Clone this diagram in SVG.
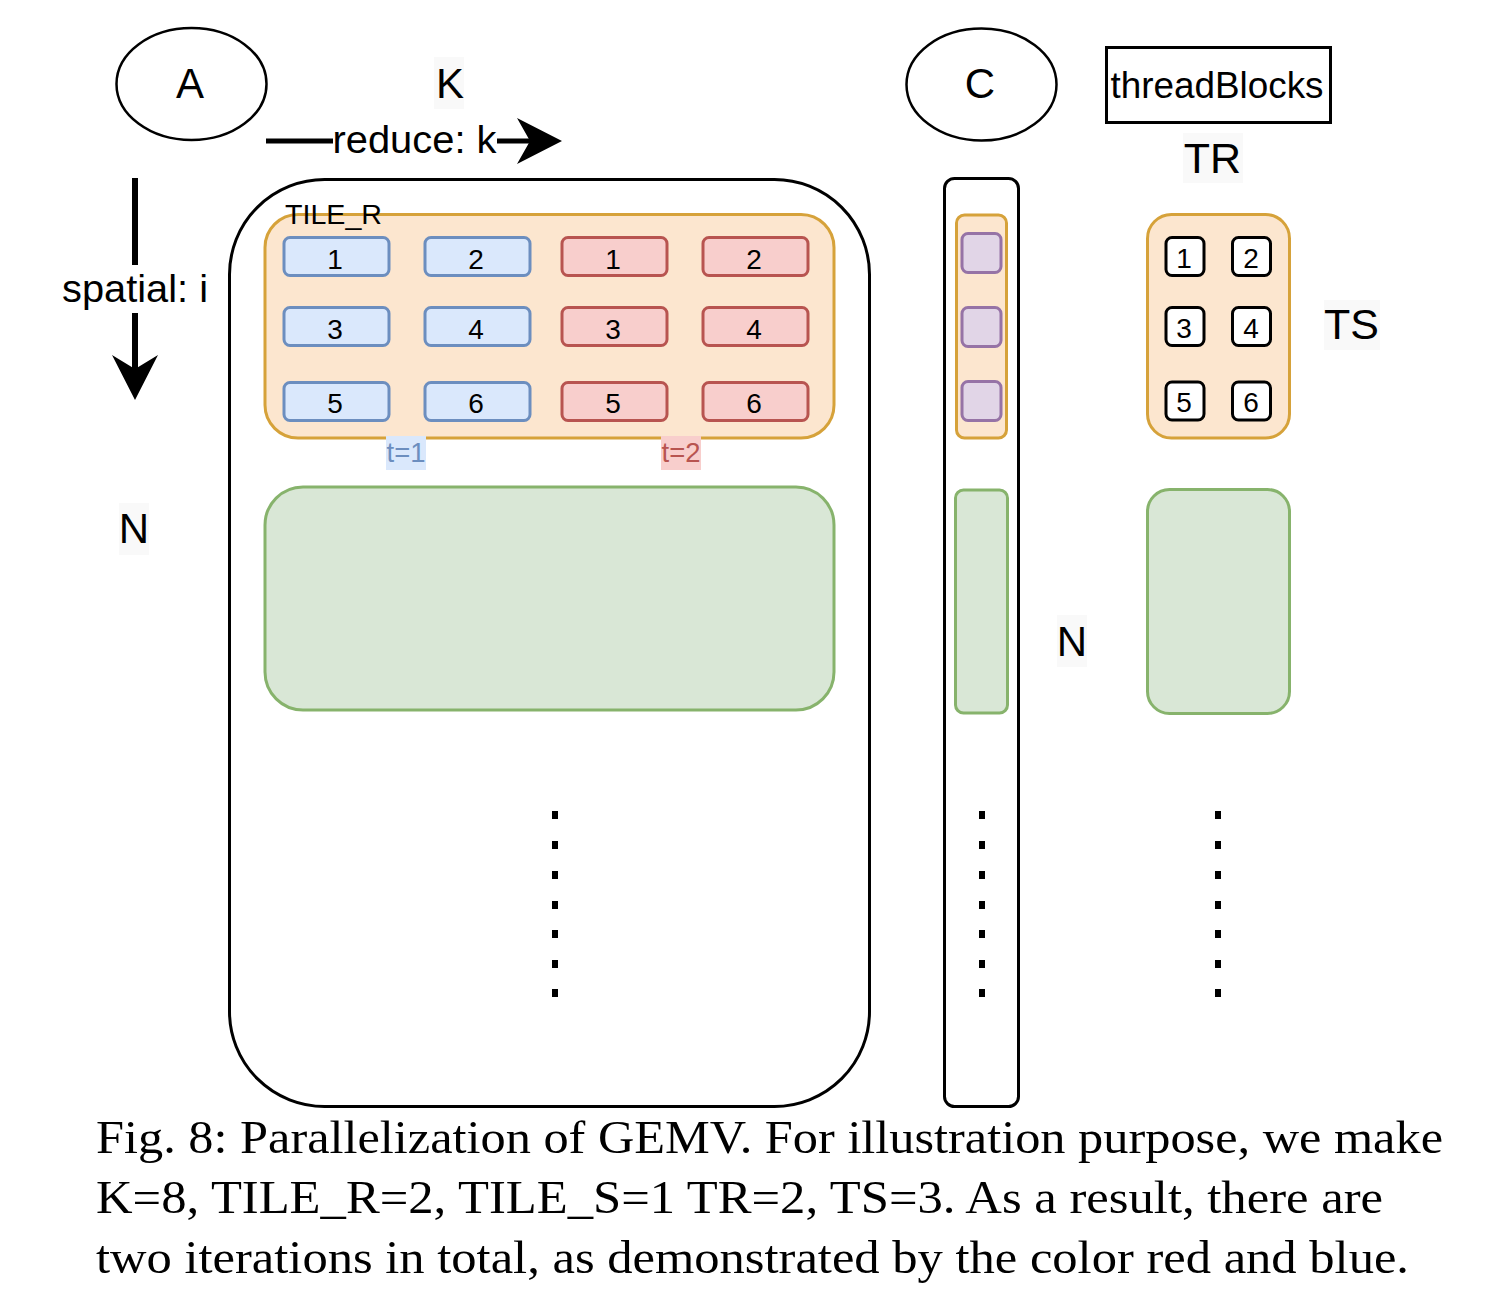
<svg xmlns="http://www.w3.org/2000/svg" width="1488" height="1302" viewBox="0 0 1488 1302">
<style>
  .sans { font-family: "Liberation Sans", Arial, sans-serif; fill: #000; }
  .serif { font-family: "Liberation Serif", "Times New Roman", serif; fill: #000; font-size: 47px; }
  .big { font-size: 42px; text-anchor: middle; }
  .num { font-size: 28px; text-anchor: middle; }
  .blue { fill: #dae8fc; stroke: #6c8ebf; stroke-width: 3; }
  .red { fill: #f8cecc; stroke: #b85450; stroke-width: 3; }
  .orange { fill: #fce6cf; stroke: #d6a23a; stroke-width: 3; }
  .green { fill: #d9e7d6; stroke: #87b36c; stroke-width: 3; }
  .purple { fill: #e1d5e7; stroke: #9673a6; stroke-width: 3; }
  .black { fill: #fff; stroke: #000; stroke-width: 3; }
  .tsq { fill: #fff; stroke: #000; stroke-width: 3; }
  .lbg { fill: #f9f9f9; }
  .dot { fill: #000; }
</style>

<!-- Node A -->
<g id="nodeA">
  <ellipse cx="191.5" cy="84" rx="75" ry="56" fill="#fff" stroke="#000" stroke-width="2.5"/>
  <text class="sans big" x="190" y="98">A</text>
</g>

<!-- Label K -->
<g id="labelK">
  <rect class="lbg" x="434" y="57" width="30" height="52"/>
  <text class="sans big" x="450" y="98">K</text>
</g>

<!-- Node C -->
<g id="nodeC">
  <ellipse cx="981.5" cy="84.5" rx="75" ry="56" fill="#fff" stroke="#000" stroke-width="2.5"/>
  <text class="sans big" x="980" y="98">C</text>
</g>

<!-- threadBlocks -->
<g id="threadBlocksLabel">
  <rect x="1106.5" y="47.5" width="224" height="75" fill="#fff" stroke="#000" stroke-width="3"/>
  <text class="sans" x="1217" y="98" font-size="37" text-anchor="middle" textLength="213" lengthAdjust="spacingAndGlyphs">threadBlocks</text>
</g>

<!-- TR / TS labels -->
<g id="labelTR">
  <rect class="lbg" x="1183" y="133" width="60" height="50"/>
  <text class="sans" x="1212.5" y="173" font-size="43" text-anchor="middle">TR</text>
</g>
<g id="labelTS">
  <rect class="lbg" x="1324" y="300" width="56" height="50"/>
  <text class="sans" x="1351.5" y="339" font-size="43" text-anchor="middle">TS</text>
</g>

<!-- N labels -->
<g id="labelN1">
  <rect class="lbg" x="119" y="503" width="30" height="52"/>
  <text class="sans big" x="134" y="543">N</text>
</g>
<g id="labelN2">
  <rect class="lbg" x="1057" y="615" width="30" height="52"/>
  <text class="sans big" x="1072" y="656">N</text>
</g>

<!-- Matrix A -->
<g id="matrixA">
  <rect class="black" x="229.5" y="179.5" width="640" height="927" rx="95" ry="95"/>
</g>

<g id="tileA">
  <rect class="orange" x="265" y="214.5" width="569" height="223.5" rx="33" ry="33"/>
  <text class="sans" x="285" y="224" font-size="27" textLength="97" lengthAdjust="spacingAndGlyphs">TILE_R</text>
  <g id="cellsBlue">
    <rect class="blue" x="284" y="237.5" width="105" height="38" rx="6"/>
    <rect class="blue" x="425" y="237.5" width="105" height="38" rx="6"/>
    <rect class="blue" x="284" y="307.5" width="105" height="38" rx="6"/>
    <rect class="blue" x="425" y="307.5" width="105" height="38" rx="6"/>
    <rect class="blue" x="284" y="382.5" width="105" height="38" rx="6"/>
    <rect class="blue" x="425" y="382.5" width="105" height="38" rx="6"/>
  </g>
  <g id="cellsRed">
    <rect class="red" x="562" y="237.5" width="105" height="38" rx="6"/>
    <rect class="red" x="703" y="237.5" width="105" height="38" rx="6"/>
    <rect class="red" x="562" y="307.5" width="105" height="38" rx="6"/>
    <rect class="red" x="703" y="307.5" width="105" height="38" rx="6"/>
    <rect class="red" x="562" y="382.5" width="105" height="38" rx="6"/>
    <rect class="red" x="703" y="382.5" width="105" height="38" rx="6"/>
  </g>
  <g id="cellNums" class="sans num">
    <text x="335" y="269">1</text><text x="476" y="269">2</text>
    <text x="613" y="269">1</text><text x="754" y="269">2</text>
    <text x="335" y="339">3</text><text x="476" y="339">4</text>
    <text x="613" y="339">3</text><text x="754" y="339">4</text>
    <text x="335" y="413">5</text><text x="476" y="413">6</text>
    <text x="613" y="413">5</text><text x="754" y="413">6</text>
  </g>
</g>

<g id="t1">
  <rect x="386" y="436" width="40" height="34" fill="#dae8fc"/>
  <text class="sans" x="406" y="462" font-size="28" text-anchor="middle" textLength="39" lengthAdjust="spacingAndGlyphs" style="fill:#6c8ebf">t=1</text>
</g>
<g id="t2">
  <rect x="661" y="436" width="40" height="34" fill="#f8cecc"/>
  <text class="sans" x="681" y="462" font-size="28" text-anchor="middle" textLength="39" lengthAdjust="spacingAndGlyphs" style="fill:#b85450">t=2</text>
</g>

<g id="greenA">
  <rect class="green" x="265" y="487" width="569" height="223" rx="38" ry="38"/>
</g>

<!-- Vector C -->
<g id="vectorC">
  <rect class="black" x="944.5" y="178.5" width="74" height="928" rx="10" ry="10"/>
  <rect class="orange" x="956.5" y="215" width="50" height="223" rx="8" ry="8"/>
  <rect class="purple" x="962" y="233.5" width="39" height="39" rx="6"/>
  <rect class="purple" x="962" y="307.5" width="39" height="39" rx="6"/>
  <rect class="purple" x="962" y="381.5" width="39" height="39" rx="6"/>
  <rect class="green" x="955.5" y="490" width="52" height="223" rx="8" ry="8"/>
</g>

<!-- Thread block -->
<g id="threadBlock">
  <rect class="orange" x="1147.5" y="214.5" width="142" height="223.5" rx="24" ry="24"/>
  <rect class="tsq" x="1166" y="237.5" width="38" height="38" rx="6"/>
  <rect class="tsq" x="1232.5" y="237.5" width="38" height="38" rx="6"/>
  <rect class="tsq" x="1166" y="307.5" width="38" height="38" rx="6"/>
  <rect class="tsq" x="1232.5" y="307.5" width="38" height="38" rx="6"/>
  <rect class="tsq" x="1166" y="382" width="38" height="38" rx="6"/>
  <rect class="tsq" x="1232.5" y="382" width="38" height="38" rx="6"/>
  <g class="sans num">
    <text x="1184" y="268">1</text><text x="1251" y="268">2</text>
    <text x="1184" y="338">3</text><text x="1251" y="338">4</text>
    <text x="1184" y="412">5</text><text x="1251" y="412">6</text>
  </g>
  <rect class="green" x="1147.5" y="489.5" width="142" height="224" rx="22" ry="22"/>
</g>

<!-- Ellipsis dots -->
<g id="dots">
  <rect class="dot" x="552" y="811" width="6" height="8"/>
  <rect class="dot" x="552" y="841" width="6" height="8"/>
  <rect class="dot" x="552" y="871" width="6" height="8"/>
  <rect class="dot" x="552" y="901" width="6" height="8"/>
  <rect class="dot" x="552" y="930" width="6" height="8"/>
  <rect class="dot" x="552" y="960" width="6" height="8"/>
  <rect class="dot" x="552" y="989" width="6" height="8"/>
  <rect class="dot" x="979" y="811" width="6" height="8"/>
  <rect class="dot" x="979" y="841" width="6" height="8"/>
  <rect class="dot" x="979" y="871" width="6" height="8"/>
  <rect class="dot" x="979" y="901" width="6" height="8"/>
  <rect class="dot" x="979" y="930" width="6" height="8"/>
  <rect class="dot" x="979" y="960" width="6" height="8"/>
  <rect class="dot" x="979" y="989" width="6" height="8"/>
  <rect class="dot" x="1215" y="811" width="6" height="8"/>
  <rect class="dot" x="1215" y="841" width="6" height="8"/>
  <rect class="dot" x="1215" y="871" width="6" height="8"/>
  <rect class="dot" x="1215" y="901" width="6" height="8"/>
  <rect class="dot" x="1215" y="930" width="6" height="8"/>
  <rect class="dot" x="1215" y="960" width="6" height="8"/>
  <rect class="dot" x="1215" y="989" width="6" height="8"/>
</g>

<!-- Connectors -->
<g id="connectors">
  <g id="reduceArrow">
    <line x1="266" y1="141" x2="333" y2="141" stroke="#000" stroke-width="5"/>
    <line x1="497" y1="141" x2="530" y2="141" stroke="#000" stroke-width="5"/>
    <polygon points="562,141 517,118 530,141 517,164" fill="#000"/>
    <text class="sans" x="414.5" y="153" font-size="38" text-anchor="middle" textLength="164" lengthAdjust="spacingAndGlyphs">reduce: k</text>
  </g>
  <g id="spatialArrow">
    <line x1="135" y1="178" x2="135" y2="265" stroke="#000" stroke-width="6"/>
    <line x1="135" y1="313" x2="135" y2="370" stroke="#000" stroke-width="6"/>
    <polygon points="135,400 112,355 135,369 158,355" fill="#000"/>
    <text class="sans" x="135" y="302" font-size="38" text-anchor="middle" textLength="146" lengthAdjust="spacingAndGlyphs">spatial: i</text>
  </g>
</g>

<!-- Caption -->
<g id="caption" class="serif">
  <text x="96" y="1153" textLength="1347" lengthAdjust="spacingAndGlyphs">Fig. 8: Parallelization of GEMV. For illustration purpose, we make</text>
  <text x="96" y="1213" textLength="1287" lengthAdjust="spacingAndGlyphs">K=8, TILE_R=2, TILE_S=1 TR=2, TS=3. As a result, there are</text>
  <text x="96" y="1273" textLength="1313" lengthAdjust="spacingAndGlyphs">two iterations in total, as demonstrated by the color red and blue.</text>
</g>
</svg>
